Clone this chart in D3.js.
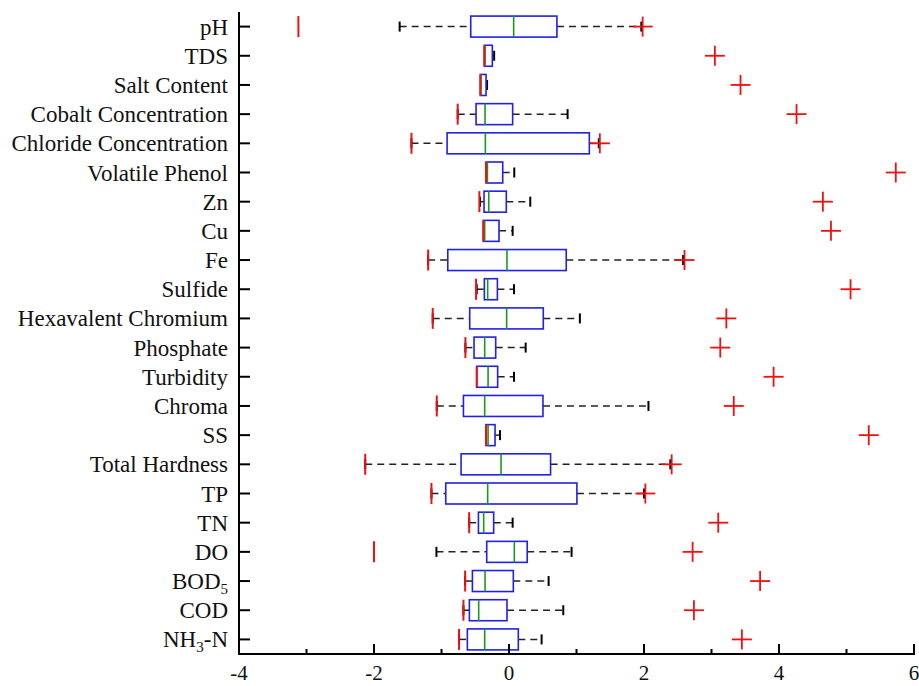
<!DOCTYPE html>
<html>
<head>
<meta charset="utf-8">
<script src="https://cdn.jsdelivr.net/npm/d3@7"></script>
<style>
  body { margin: 0; background: #fff; }
  text { font-family: "Liberation Serif", "Times New Roman", serif; }
</style>
</head>
<body>
<svg id="chart" width="919" height="686"></svg>
<script>
// parameters, top to bottom
const categories = ["pH", "TDS", "Salt Content", "Cobalt Concentration", "Chloride Concentration",
  "Volatile Phenol", "Zn", "Cu", "Fe", "Sulfide", "Hexavalent Chromium", "Phosphate", "Turbidity",
  "Chroma", "SS", "Total Hardness", "TP", "TN", "DO", "BOD5", "COD", "NH3-N"];

const lowMark   = [-3.12, -0.365, -0.424, -0.76, -1.445, -0.34, -0.439, -0.38, -1.198, -0.488, -1.13, -0.646, -0.478, -1.07, -0.34, -2.13, -1.149, -0.59, -2.0, -0.65, -0.675, -0.74];
const whiskerLo = [-1.62, -0.365, -0.424, -0.76, -1.445, -0.34, -0.43, -0.38, -1.198, -0.478, -1.13, -0.646, -0.478, -1.07, -0.34, -2.13, -1.149, -0.59, -1.075, -0.65, -0.675, -0.74];
const q1        = [-0.567, -0.365, -0.424, -0.488, -0.917, -0.34, -0.37, -0.38, -0.907, -0.365, -0.582, -0.518, -0.478, -0.675, -0.34, -0.71, -0.937, -0.453, -0.33, -0.542, -0.587, -0.617];
const median    = [0.069, -0.355, -0.415, -0.355, -0.35, -0.32, -0.30, -0.36, -0.03, -0.316, -0.035, -0.36, -0.31, -0.36, -0.31, -0.118, -0.316, -0.375, 0.079, -0.355, -0.449, -0.36];
const q3        = [0.71, -0.247, -0.34, 0.054, 1.19, -0.093, -0.04, -0.148, 0.848, -0.172, 0.508, -0.197, -0.168, 0.503, -0.207, 0.616, 1.006, -0.227, 0.27, 0.064, -0.03, 0.138];
const whiskerHi = [1.96, -0.22, -0.325, 0.868, 1.33, 0.078, 0.315, 0.054, 2.58, 0.074, 1.05, 0.247, 0.074, 2.066, -0.133, 2.39, 2.0, 0.054, 0.927, 0.587, 0.804, 0.483];
const outlier   = [1.98, 3.05, 3.43, 4.26, 1.346, 5.73, 4.65, 4.77, 2.60, 5.06, 3.22, 3.13, 3.92, 3.33, 5.33, 2.41, 2.02, 3.10, 2.72, 3.72, 2.74, 3.45];

const xTicks = [-4, -2, 0, 2, 4, 6];
const xMinor = [-3, -1, 1, 3, 5];

const svg = d3.select("#chart");
const padL = 239, padR = 914, padT = 12, padB = 654;

const x = d3.scaleLinear().domain([-4, 6]).range([padL, padR]);
const y = d3.scaleBand().domain(categories).range([padT, padB]).padding(0);
const cy = d => y(d) + y.bandwidth() / 2;
const boxH = 21;

const rows = categories.map((c, i) => ({
  name: c, lo: lowMark[i], wLo: whiskerLo[i], q1: q1[i], med: median[i],
  q3: q3[i], wHi: whiskerHi[i], out: outlier[i]
}));

const g = svg.append("g");
const row = g.selectAll(".row").data(rows).enter().append("g")
  .attr("transform", d => "translate(0," + cy(d.name) + ")");

// whiskers
row.filter(d => d.wLo < d.q1).append("line")
  .attr("x1", d => x(d.wLo)).attr("x2", d => x(d.q1))
  .attr("stroke", "#222").attr("stroke-width", 1.5).attr("stroke-dasharray", "7,5");
row.filter(d => d.wHi > d.q3).append("line")
  .attr("x1", d => x(d.q3)).attr("x2", d => x(d.wHi))
  .attr("stroke", "#222").attr("stroke-width", 1.5).attr("stroke-dasharray", "7,5");
// caps
row.filter(d => d.wLo < d.q1).append("line")
  .attr("x1", d => x(d.wLo)).attr("x2", d => x(d.wLo))
  .attr("y1", -5).attr("y2", 5).attr("stroke", "#000").attr("stroke-width", 2);
row.filter(d => d.wHi > d.q3).append("line")
  .attr("x1", d => x(d.wHi)).attr("x2", d => x(d.wHi))
  .attr("y1", -5).attr("y2", 5).attr("stroke", "#000").attr("stroke-width", 2);

// boxes
row.append("rect")
  .attr("x", d => x(d.q1)).attr("width", d => Math.max(x(d.q3) - x(d.q1), 1))
  .attr("y", -boxH / 2).attr("height", boxH)
  .attr("fill", "none").attr("stroke", "#2020e8").attr("stroke-width", 1.6);

// medians
row.append("line")
  .attr("x1", d => x(d.med)).attr("x2", d => x(d.med))
  .attr("y1", -boxH / 2).attr("y2", boxH / 2)
  .attr("stroke", "#1a9a1a").attr("stroke-width", 1.6);

// low red marks
row.append("line")
  .attr("x1", d => x(d.lo)).attr("x2", d => x(d.lo))
  .attr("y1", -boxH / 2).attr("y2", boxH / 2)
  .attr("stroke", "#f01010").attr("stroke-width", 2);

// outliers (+)
const plus = row.append("g").attr("transform", d => "translate(" + x(d.out) + ",0)");
plus.append("line").attr("x1", -10).attr("x2", 10).attr("stroke", "#f01010").attr("stroke-width", 1.8);
plus.append("line").attr("y1", -10).attr("y2", 10).attr("stroke", "#f01010").attr("stroke-width", 1.8);

// y axis
svg.append("line").attr("x1", padL).attr("x2", padL).attr("y1", padT).attr("y2", padB + 1)
  .attr("stroke", "#000").attr("stroke-width", 2);
svg.selectAll(".ytick").data(categories).enter().append("line")
  .attr("x1", padL).attr("x2", padL + 11)
  .attr("y1", d => cy(d)).attr("y2", d => cy(d))
  .attr("stroke", "#000").attr("stroke-width", 2);

const labels = svg.selectAll(".ylab").data(categories).enter().append("text")
  .attr("x", padL - 11).attr("y", d => cy(d) + 8)
  .attr("text-anchor", "end").attr("font-size", 23).attr("fill", "#111");
labels.each(function(d) {
  const t = d3.select(this);
  if (d === "BOD5") {
    t.append("tspan").text("BOD");
    t.append("tspan").text("5").attr("font-size", 15).attr("dy", 5);
  } else if (d === "NH3-N") {
    t.append("tspan").text("NH");
    t.append("tspan").text("3").attr("font-size", 15).attr("dy", 5);
    t.append("tspan").text("-N").attr("dy", -5);
  } else {
    t.text(d);
  }
});

// x axis
svg.append("line").attr("x1", padL - 1).attr("x2", padR + 1).attr("y1", padB).attr("y2", padB)
  .attr("stroke", "#000").attr("stroke-width", 2);
svg.selectAll(".xtick").data(xTicks).enter().append("line")
  .attr("x1", d => x(d)).attr("x2", d => x(d))
  .attr("y1", padB).attr("y2", padB - 10)
  .attr("stroke", "#000").attr("stroke-width", 2);
svg.selectAll(".xminor").data(xMinor).enter().append("line")
  .attr("x1", d => x(d)).attr("x2", d => x(d))
  .attr("y1", padB).attr("y2", padB - 5)
  .attr("stroke", "#000").attr("stroke-width", 2);
svg.selectAll(".xlab").data(xTicks).enter().append("text")
  .attr("x", d => x(d)).attr("y", 680)
  .attr("text-anchor", "middle").attr("font-size", 21).attr("fill", "#111")
  .text(d => d);
</script>
</body>
</html>
